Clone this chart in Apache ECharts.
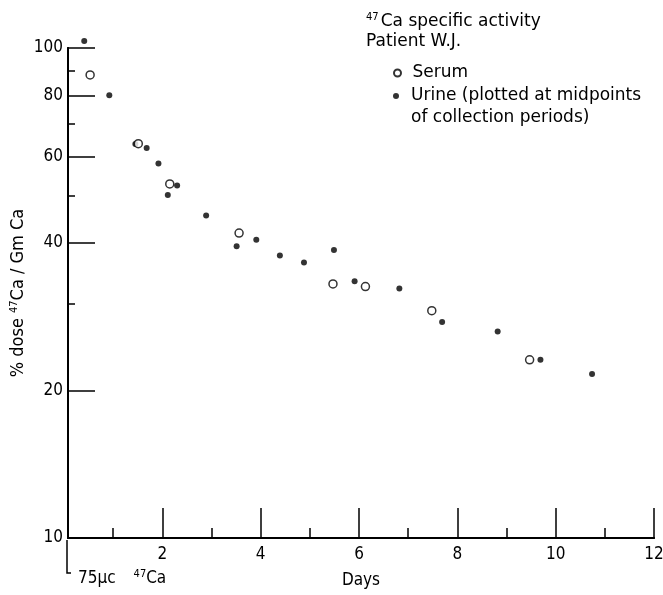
<!DOCTYPE html>
<html>
<head>
<meta charset="utf-8">
<script src="https://cdn.jsdelivr.net/npm/echarts@6/dist/echarts.min.js"></script>
<style>html,body{margin:0;padding:0;background:#fff}#c{width:663px;height:595px}</style>
</head>
<body>
<div id="c"></div>
<script>
var serumDays   = [0.53, 1.51, 2.15, 3.56, 5.47, 6.13, 7.48, 9.47];
var serumValues = [88.1, 63.8, 52.8, 41.9, 33.0, 32.6, 29.1, 23.1];
var urineDays   = [0.41, 0.92, 1.45, 1.68, 1.92, 2.11, 2.30, 2.89, 3.51, 3.91, 4.39, 4.88, 5.49, 5.91, 6.82, 7.69, 8.82, 9.69, 10.74];
var urineValues = [103.3, 80.1, 63.7, 62.5, 58.1, 50.1, 52.4, 45.5, 39.4, 40.6, 37.7, 36.5, 38.7, 33.4, 32.3, 27.6, 26.4, 23.1, 21.6];
var yMajorTicks = [10, 20, 40, 60, 80, 100];
var yMinorTicks = [30, 50, 70, 90];
var xMajorTicks = [2, 4, 6, 8, 10, 12];
var xMinorTicks = [1, 3, 5, 7, 9, 11];
var serumName = 'Serum';
var urineName = 'Urine (plotted at midpoints\nof collection periods)';

var AX = "'DejaVu Sans Condensed','Liberation Sans',sans-serif";
var TX = "'DejaVu Sans',sans-serif";

function pairs(xs, ys) { return xs.map(function (x, i) { return [x, ys[i]]; }); }

var chart = echarts.init(document.getElementById('c'), null, { renderer: 'canvas' });
var xBase = { type: 'value', min: 0.08, max: 12, position: 'bottom', gridIndex: 0,
  splitLine: { show: false },
  axisLine: { lineStyle: { color: '#000', width: 2 } } };
var yBase = { type: 'log', logBase: 10, min: 10, max: 100, position: 'left', gridIndex: 0,
  splitLine: { show: false },
  axisLine: { lineStyle: { color: '#000', width: 2 } } };

chart.setOption({
  animation: false,
  backgroundColor: '#fff',
  grid: { left: 68, right: 9, top: 48, bottom: 57, containLabel: false, outerBoundsMode: 'none' },
  title: {
    left: 366, top: 12, padding: 0,
    text: '{sup|47}{m|Ca specific activity}\n{m|Patient W.J.}',
    textStyle: {
      fontWeight: 'normal',
      rich: {
        sup: { fontFamily: TX, fontSize: 10, fontWeight: 'normal', color: '#000', verticalAlign: 'top', lineHeight: 13, padding: [0, 2, 0, 0] },
        m: { fontFamily: TX, fontSize: 17, fontWeight: 'normal', color: '#000', lineHeight: 20 }
      }
    }
  },
  legend: [
    { data: [serumName], orient: 'vertical', left: 393, top: 62, padding: 0,
      itemWidth: 20, itemHeight: 7, icon: 'circle',
      textStyle: { fontFamily: TX, fontSize: 17, color: '#000', lineHeight: 22 } },
    { data: [urineName], orient: 'vertical', left: 393, top: 63, padding: 0,
      itemWidth: 20, itemHeight: 6, icon: 'circle',
      formatter: function (name) { return '\n' + name; },
      textStyle: { fontFamily: TX, fontSize: 17, color: '#000', lineHeight: 22 } }
  ],
  xAxis: [
    Object.assign({}, xBase, {
      axisTick: { show: true, inside: true, length: 10, customValues: xMinorTicks, lineStyle: { color: '#000', width: 1.5 } },
      axisLabel: { show: false }
    }),
    Object.assign({}, xBase, {
      name: 'Days', nameLocation: 'middle', nameGap: 34, nameMoveOverlap: false,
      nameTextStyle: { fontFamily: AX, fontSize: 17, color: '#000' },
      axisTick: { show: true, inside: true, length: 30, customValues: xMajorTicks, lineStyle: { color: '#000', width: 1.5 } },
      axisLabel: { show: true, customValues: xMajorTicks, margin: 8, fontFamily: AX, fontSize: 17, color: '#000' }
    })
  ],
  yAxis: [
    Object.assign({}, yBase, {
      name: '% dose {sup|47}Ca / Gm Ca', nameLocation: 'middle', nameGap: 41, nameRotate: 90, nameMoveOverlap: false,
      nameTextStyle: { fontFamily: AX, fontSize: 18, color: '#000',
        rich: { sup: { fontFamily: AX, fontSize: 11, color: '#000', verticalAlign: 'top', lineHeight: 12 } } },
      axisTick: { show: true, inside: true, length: 27, customValues: yMajorTicks, lineStyle: { color: '#000', width: 1.5 } },
      axisLabel: { show: true, customValues: yMajorTicks, margin: 5, fontFamily: AX, fontSize: 17, color: '#000' }
    }),
    Object.assign({}, yBase, {
      axisTick: { show: true, inside: true, length: 7, customValues: yMinorTicks, lineStyle: { color: '#000', width: 1.5 } },
      axisLabel: { show: false }
    })
  ],
  graphic: [
    { type: 'polyline', shape: { points: [[67, 540], [67, 573], [71, 573]] }, style: { stroke: '#000', lineWidth: 1.5, fill: null } },
    { type: 'text', left: 78, top: 569,
      style: { text: '{m|75μc}{sup|47}{m|Ca}', fill: '#000',
        rich: { m: { fontFamily: AX, fontSize: 17, lineHeight: 20 }, sup: { fontFamily: AX, fontSize: 11, verticalAlign: 'top', lineHeight: 12, padding: [0, 0, 0, 18] } } } }
  ],
  series: [
    { name: urineName, type: 'scatter', xAxisIndex: 0, yAxisIndex: 0, clip: false,
      symbol: 'circle', symbolSize: 6, itemStyle: { color: '#000' },
      data: pairs(urineDays, urineValues) },
    { name: serumName, type: 'scatter', xAxisIndex: 0, yAxisIndex: 0, clip: false,
      symbol: 'circle', symbolSize: 8, itemStyle: { color: '#fff', borderColor: '#000', borderWidth: 1.5 },
      data: pairs(serumDays, serumValues) }
  ]
});
</script>
</body>
</html>
